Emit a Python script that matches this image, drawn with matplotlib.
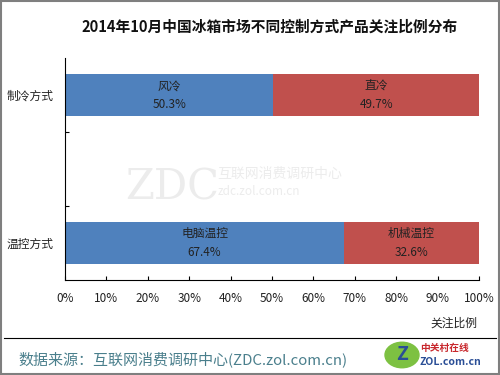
import matplotlib.pyplot as plt
from matplotlib.patches import Rectangle, Circle
import numpy as np

plt.rcParams['font.family'] = ['Noto Sans CJK SC', 'DejaVu Sans']

categories = ["制冷方式", "温控方式"]
first_names = ["风冷", "电脑温控"]
first_values = [50.3, 67.4]
second_names = ["直冷", "机械温控"]
second_values = [49.7, 32.6]
xticks = [0, 10, 20, 30, 40, 50, 60, 70, 80, 90, 100]

blue = "#4F81BD"
red = "#C0504D"

fig = plt.figure(figsize=(5, 3.75), dpi=100)
ax = fig.add_axes([65 / 500, 1 - 280 / 375, (479 - 65) / 500, (280 - 58) / 375])

ypos = [2.5, 0.5]
ax.barh(ypos, first_values, height=0.57, color=blue)
ax.barh(ypos, second_values, left=first_values, height=0.57, color=red)

for y, n1, v1, n2, v2 in zip(ypos, first_names, first_values, second_names, second_values):
    ax.text(v1 / 2, y, "{}\n{}%".format(n1, v1), ha="center", va="center",
            fontsize=8.5, color="#222222", linespacing=1.55)
    ax.text(v1 + v2 / 2, y, "{}\n{}%".format(n2, v2), ha="center", va="center",
            fontsize=8.5, color="#222222", linespacing=1.55)

ax.set_xlim(0, 100)
ax.set_ylim(0, 3)
ax.set_xticks(xticks)
ax.set_xticklabels(["{}%".format(t) for t in xticks], fontsize=8.5, color="#222222")
ax.set_yticks(ypos)
ax.set_yticklabels(categories, fontsize=8.5, color="#222222")
ax.set_yticks([1, 2], minor=True)
ax.tick_params(axis="y", which="major", length=0, pad=8.5)
ax.tick_params(axis="y", which="minor", length=3, direction="in", width=0.8)
ax.tick_params(axis="x", length=3, direction="in", width=0.8, pad=9)
for s in ["top", "right"]:
    ax.spines[s].set_visible(False)
for s in ["left", "bottom"]:
    ax.spines[s].set_linewidth(0.8)

# watermark
fig.text(0.345, 0.50, "ZDC", fontsize=30, color="#ececec", family="DejaVu Serif",
         ha="center", va="center", zorder=0)
fig.text(0.435, 0.535, "互联网消费调研中心", fontsize=10, color="#ececec", ha="left", va="center")
fig.text(0.435, 0.49, "zdc.zol.com.cn", fontsize=8.5, color="#ececec", ha="left", va="center")

fig.text(270 / 500, 1 - 26 / 375, "2014年10月中国冰箱市场不同控制方式产品关注比例分布",
         fontsize=10.6, fontweight="bold", ha="center", va="center", color="#111111")
fig.text(477 / 500, 1 - 323 / 375, "关注比例", fontsize=8.5, ha="right", va="center", color="#222222")

fig.add_artist(plt.Line2D([4 / 500, 496 / 500], [1 - 338 / 375] * 2, color="black", lw=0.8))
fig.text(18 / 500, 1 - 359 / 375, "数据来源：互联网消费调研中心(ZDC.zol.com.cn)",
         fontsize=10.8, ha="left", va="center", color="#4a7f8c")

# logo
fig.add_artist(Circle((402 / 500, 1 - 355 / 375), 17 / 500, transform=fig.transFigure,
                      color="#7dc142", zorder=3))
fig.text(402 / 500, 1 - 355 / 375, "Z", fontsize=14, fontweight="bold", color="#2a4e96",
         ha="center", va="center", zorder=4)
fig.text(420 / 500, 1 - 348 / 375, "中关村在线", fontsize=7, fontweight="bold", color="#c8282d",
         ha="left", va="center")
fig.text(420 / 500, 1 - 362 / 375, "ZOL.com.cn", fontsize=7.5, fontweight="bold", color="#2a4e96",
         ha="left", va="center")

fig.add_artist(Rectangle((0.002, 0.003), 0.996, 0.994, transform=fig.transFigure,
                         fill=False, edgecolor="#7f7f7f", lw=1.5))

fig.savefig("out.png", dpi=100)
